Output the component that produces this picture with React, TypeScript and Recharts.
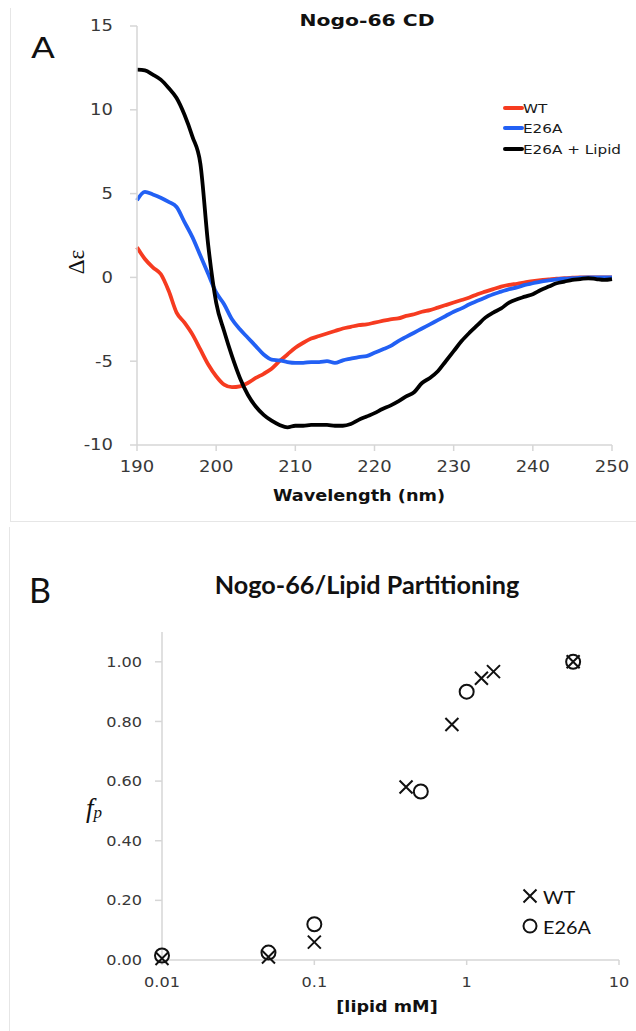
import { LineChart, Line, XAxis, YAxis, ScatterChart, Scatter } from 'recharts';

// Panel A: CD spectra, 1 nm steps
const wavelength = [
  190, 191, 192, 193, 194, 195, 196, 197, 198, 199, 200, 201, 202, 203, 204, 205, 206, 207, 208, 209,
  210, 211, 212, 213, 214, 215, 216, 217, 218, 219, 220, 221, 222, 223, 224, 225, 226, 227, 228, 229,
  230, 231, 232, 233, 234, 235, 236, 237, 238, 239, 240, 241, 242, 243, 244, 245, 246, 247, 248, 249, 250,
];
const wtCD = [
  1.8, 1.1, 0.6, 0.2, -0.8, -2.1, -2.7, -3.4, -4.3, -5.2, -5.9, -6.4, -6.55, -6.5, -6.3, -6.0, -5.75, -5.45, -5.0, -4.6,
  -4.2, -3.9, -3.65, -3.5, -3.35, -3.2, -3.05, -2.95, -2.85, -2.8, -2.7, -2.6, -2.5, -2.45, -2.3, -2.2, -2.05, -1.95, -1.8, -1.65,
  -1.5, -1.35, -1.2, -1.0, -0.85, -0.7, -0.55, -0.45, -0.38, -0.3, -0.22, -0.16, -0.12, -0.08, -0.05, -0.02, 0, 0, 0, 0, 0,
];
const e26aCD = [
  4.6, 5.1, 4.95, 4.75, 4.5, 4.2, 3.3, 2.4, 1.3, 0.2, -0.9, -1.6, -2.5, -3.1, -3.6, -4.1, -4.6, -4.9, -4.95, -5.05,
  -5.1, -5.1, -5.05, -5.05, -5.0, -5.1, -4.95, -4.85, -4.75, -4.7, -4.5, -4.3, -4.1, -3.8, -3.55, -3.3, -3.05, -2.8, -2.55, -2.3,
  -2.05, -1.85, -1.6, -1.4, -1.2, -1.0, -0.85, -0.7, -0.6, -0.45, -0.35, -0.25, -0.18, -0.12, -0.08, -0.05, -0.02, 0, 0, 0, 0,
];
const lipidCD = [
  12.4, 12.35, 12.1, 11.8, 11.3, 10.7, 9.7, 8.4, 6.8, 1.9, -1.5, -3.2, -4.7, -6.0, -7.0, -7.7, -8.2, -8.55, -8.8, -8.95,
  -8.85, -8.85, -8.8, -8.8, -8.8, -8.85, -8.85, -8.75, -8.5, -8.3, -8.1, -7.85, -7.65, -7.4, -7.1, -6.85, -6.3, -6.0, -5.6, -5.0,
  -4.4, -3.8, -3.3, -2.85, -2.4, -2.1, -1.85, -1.5, -1.3, -1.15, -1.0, -0.75, -0.55, -0.35, -0.25, -0.15, -0.1, -0.05, -0.1, -0.15, -0.1,
];
const cdXTicks = [190, 200, 210, 220, 230, 240, 250];
const cdYTicks = [-10, -5, 0, 5, 10, 15];

// Panel B: partitioning
const wtLipid = [0.01, 0.05, 0.1, 0.4, 0.8, 1.25, 1.5, 5];
const wtFp = [0.005, 0.01, 0.06, 0.58, 0.79, 0.945, 0.967, 1.0];
const e26aLipid = [0.01, 0.05, 0.1, 0.5, 1.0, 5];
const e26aFp = [0.015, 0.025, 0.12, 0.565, 0.9, 1.0];
const partXTicks = [0.01, 0.1, 1, 10];
const partYTicks = [0, 0.2, 0.4, 0.6, 0.8, 1.0];

const AXIS = { stroke: '#d6d6d6', strokeWidth: 1.5 };
const TICK_COLOR = '#383838';

function StretchTick(props: any) {
  const { x, y, payload, textAnchor, size, sx, dy, fmt } = props;
  return (
    <g transform={`translate(${x},${y}) scale(${sx},1)`}>
      <text x={0} y={0} dy={dy} textAnchor={textAnchor} fontSize={size} fontFamily="DejaVu Sans" fill={TICK_COLOR}>
        {fmt ? fmt(payload.value) : payload.value}
      </text>
    </g>
  );
}

function Label(props: any) {
  const { x, y, children, size, family = 'DejaVu Sans', weight = 400, sx = 1, anchor = 'middle', rotate = 0, italic = false, color = '#111' } = props;
  const tx = anchor === 'middle' ? '-50%' : '0';
  return (
    <div
      style={{
        position: 'absolute',
        left: x,
        top: y,
        fontSize: size,
        fontFamily: family,
        fontWeight: weight,
        fontStyle: italic ? 'italic' : 'normal',
        lineHeight: 1,
        whiteSpace: 'nowrap',
        color,
        transformOrigin: anchor === 'middle' ? '50% 50%' : '0 50%',
        transform: `translate(${tx}, -50%) scaleX(${sx}) rotate(${rotate}deg)`,
      }}
    >
      {children}
    </div>
  );
}

const CrossMark = (p: any) => {
  const s = 6.5;
  const { cx, cy } = p;
  return (
    <path
      d={`M${cx - s},${cy - s}L${cx + s},${cy + s}M${cx - s},${cy + s}L${cx + s},${cy - s}`}
      stroke="#111"
      strokeWidth={2}
      fill="none"
    />
  );
};

const RingMark = (p: any) => <circle cx={p.cx} cy={p.cy} r={7} stroke="#111" strokeWidth={2} fill="none" />;

const cdLegend = [
  { name: 'WT', color: '#f63b20' },
  { name: 'E26A', color: '#2260f4' },
  { name: 'E26A + Lipid', color: '#000' },
];

export default function App() {
  const cdRows = wavelength.map((w, i) => ({ w, wt: wtCD[i], e26a: e26aCD[i], lipid: lipidCD[i] }));
  const wtPts = wtLipid.map((x, i) => ({ x, y: wtFp[i] }));
  const e26aPts = e26aLipid.map((x, i) => ({ x, y: e26aFp[i] }));

  return (
    <div style={{ position: 'absolute', left: 0, top: 0, width: 636, height: 1031, background: '#fff', overflow: 'hidden' }}>
      {/* panel frames */}
      <div style={{ position: 'absolute', left: 10, top: 8, width: 640, height: 513, borderLeft: '1.5px solid #e6e6e6', borderBottom: '1.5px solid #e6e6e6' }} />
      <div style={{ position: 'absolute', left: 9, top: 527, width: 0, height: 510, borderLeft: '1.5px solid #e6e6e6' }} />

      <div style={{ position: 'absolute', left: 0, top: 0 }}>
        <LineChart width={636} height={521} data={cdRows} margin={{ top: 26, right: 24, bottom: 46, left: 0 }}>
          <XAxis
            dataKey="w"
            type="number"
            domain={[190, 250]}
            ticks={cdXTicks}
            height={30}
            axisLine={AXIS}
            tickLine={AXIS}
            tickSize={6}
            tickMargin={10}
            tick={(p: any) => <StretchTick {...p} size={15} sx={1.2} dy="0.71em" />}
          />
          <YAxis
            type="number"
            domain={[-10, 15]}
            ticks={cdYTicks}
            width={137}
            axisLine={AXIS}
            tickLine={AXIS}
            tickSize={7}
            tickMargin={17}
            tick={(p: any) => <StretchTick {...p} size={15} sx={1.2} dy="0.36em" />}
          />
          <Line type="monotone" dataKey="wt" stroke="#f63b20" strokeWidth={3.8} dot={false} isAnimationActive={false} />
          <Line type="monotone" dataKey="e26a" stroke="#2260f4" strokeWidth={3.8} dot={false} isAnimationActive={false} />
          <Line type="monotone" dataKey="lipid" stroke="#000" strokeWidth={3.8} dot={false} isAnimationActive={false} />
        </LineChart>
      </div>

      <Label x={43} y={49} size={28} sx={1.25}>A</Label>
      <Label x={367} y={21} size={16} weight={700} sx={1.27}>Nogo-66 CD</Label>
      <Label x={76} y={262} size={23} family="Liberation Serif" rotate={-90}>Δε</Label>
      <Label x={359} y={496} size={15} weight={700} sx={1.18}>Wavelength (nm)</Label>
      {cdLegend.map((d, i) => (
        <div key={d.name}>
          <div style={{ position: 'absolute', left: 503, top: 105.5 + i * 20.5, width: 21, height: 4, borderRadius: 2, background: d.color }} />
          <Label x={523} y={107.5 + i * 20.5} size={13} sx={1.17} anchor="start" color="#1a1a1a">{d.name}</Label>
        </div>
      ))}

      <div style={{ position: 'absolute', left: 0, top: 527 }}>
        <ScatterChart width={636} height={504} margin={{ top: 105, right: 17, bottom: 41, left: 0 }}>
          <XAxis
            dataKey="x"
            type="number"
            scale="log"
            domain={[0.01, 10]}
            ticks={partXTicks}
            height={30}
            axisLine={AXIS}
            tickLine={AXIS}
            tickSize={5}
            tickMargin={12}
            tick={(p: any) => <StretchTick {...p} size={14} sx={1.15} dy="0.71em" fmt={(v: number) => String(v)} />}
          />
          <YAxis
            dataKey="y"
            type="number"
            domain={[0, 1.1]}
            ticks={partYTicks}
            width={162}
            axisLine={AXIS}
            tickLine={AXIS}
            tickSize={7}
            tickMargin={13}
            tick={(p: any) => <StretchTick {...p} size={14} sx={1.15} dy="0.36em" fmt={(v: number) => v.toFixed(2)} />}
          />
          <Scatter data={e26aPts} shape={RingMark} isAnimationActive={false} />
          <Scatter data={wtPts} shape={CrossMark} isAnimationActive={false} />
        </ScatterChart>
      </div>

      <Label x={40} y={590} size={34} family="Lato">B</Label>
      <Label x={367} y={585} size={24} family="Lato" weight={700} sx={1.05}>Nogo-66/Lipid Partitioning</Label>
      <Label x={94} y={808} size={27} family="Liberation Serif" italic>
        f<span style={{ fontSize: 17, verticalAlign: '-0.1em' }}>p</span>
      </Label>
      <Label x={387} y={1007} size={16} weight={700} sx={1.1}>[lipid mM]</Label>

      <svg style={{ position: 'absolute', left: 520, top: 886 }} width={20} height={50}>
        <path d="M3.5,3.5L16.5,16.5M3.5,16.5L16.5,3.5" stroke="#111" strokeWidth={2} fill="none" />
        <circle cx={10} cy={40} r={6.5} stroke="#111" strokeWidth={2} fill="none" />
      </svg>
      <Label x={543} y={897} size={18} family="Lato" sx={1.1} anchor="start">WT</Label>
      <Label x={543} y={927} size={18} family="Lato" sx={1.1} anchor="start">E26A</Label>
    </div>
  );
}
